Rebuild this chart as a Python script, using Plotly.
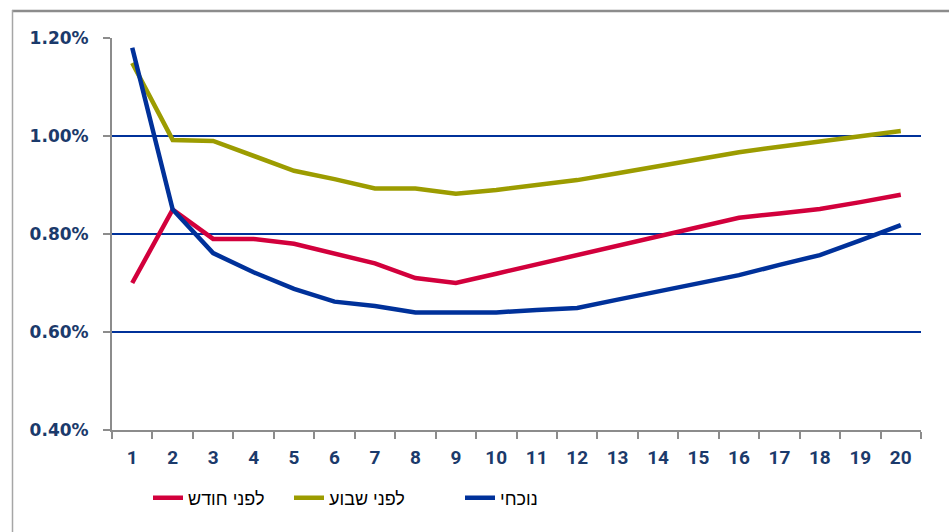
import plotly.graph_objects as go

categories = [str(i) for i in range(1, 21)]
month_ago = [0.70, 0.85, 0.79, 0.79, 0.78, 0.76, 0.74, 0.71, 0.70, 0.719,
             0.738, 0.757, 0.776, 0.795, 0.814, 0.833, 0.842, 0.851, 0.865, 0.880]
week_ago = [1.149, 0.992, 0.99, 0.96, 0.929, 0.912, 0.893, 0.893, 0.882, 0.89,
            0.90, 0.910, 0.924, 0.938, 0.953, 0.967, 0.978, 0.989, 1.00, 1.010]
current = [1.18, 0.85, 0.761, 0.722, 0.688, 0.662, 0.653, 0.64, 0.64, 0.64,
           0.645, 0.649, 0.666, 0.683, 0.700, 0.716, 0.737, 0.757, 0.787, 0.818]
series_names = ["לפני חודש", "לפני שבוע", "נוכחי"]
colors = ["#D2003C", "#9C9C00", "#00319A"]
y_ticks = [0.4, 0.6, 0.8, 1.0, 1.2]
y_ticklabels = ["0.40%", "0.60%", "0.80%", "1.00%", "1.20%"]

W, H = 949, 532
L, R, T, B = 112, 28, 38, 102
pw, ph = W - L - R, H - T - B

def px_x(p):
    return (p - L) / pw

def px_y(p):
    return (H - B - p) / ph

fig = go.Figure()
legend_ids = ["legend", "legend2", "legend3"]
for vals, name, col, lg in zip([month_ago, week_ago, current], series_names, colors, legend_ids):
    fig.add_trace(go.Scatter(
        x=categories, y=[v / 100 for v in vals], mode="lines", name=name,
        line=dict(color=col, width=4.5), legend=lg))

leg_font = dict(family="Liberation Sans, Arial, sans-serif", size=18, color="#000000")
legend_x = [148, 289, 460]
common = dict(orientation="h", yanchor="middle", xanchor="left",
              font=leg_font, bgcolor="rgba(0,0,0,0)", borderwidth=0)
fig.update_layout(
    width=W, height=H,
    margin=dict(l=L, r=R, t=T, b=B),
    paper_bgcolor="white", plot_bgcolor="white",
    showlegend=True,
    legend=dict(x=px_x(legend_x[0]), y=px_y(498), **common),
    legend2=dict(x=px_x(legend_x[1]), y=px_y(498), **common),
    legend3=dict(x=px_x(legend_x[2]), y=px_y(498), **common),
    xaxis=dict(
        type="category", range=[-0.5, 19.5], tickson="boundaries", ticks="outside", ticklen=7,
        tickcolor="#8C8C8C", tickwidth=2, showline=True, linecolor="#8C8C8C",
        linewidth=2, showgrid=False, zeroline=False,
        tickfont=dict(family="Roboto, DejaVu Sans Condensed, sans-serif",
                      size=19, color="#1B3A6B", weight="bold"),
        ticklabelstandoff=9,
    ),
    yaxis=dict(
        range=[0.004, 0.012], tickvals=[v / 100 for v in y_ticks], ticktext=y_ticklabels,
        ticks="outside", ticklen=7, tickcolor="#8C8C8C", tickwidth=2,
        showline=True, linecolor="#8C8C8C", linewidth=2,
        showgrid=True, gridcolor="#00319A", gridwidth=1.5, zeroline=False,
        tickfont=dict(family="DejaVu Sans, Verdana, sans-serif", size=17,
                      color="#1B3A6B", weight="bold"),
        ticklabelstandoff=11,
    ),
    shapes=[
        dict(type="line", xref="paper", yref="paper", x0=px_x(12), x1=px_x(960),
             y0=px_y(11), y1=px_y(11), line=dict(color="#8C8C8C", width=2.5), layer="below"),
        dict(type="line", xref="paper", yref="paper", x0=px_x(12.5), x1=px_x(12.5),
             y0=px_y(10), y1=px_y(540), line=dict(color="#A6A6A6", width=1.5), layer="below"),
    ],
)

fig.write_html("out.html")
